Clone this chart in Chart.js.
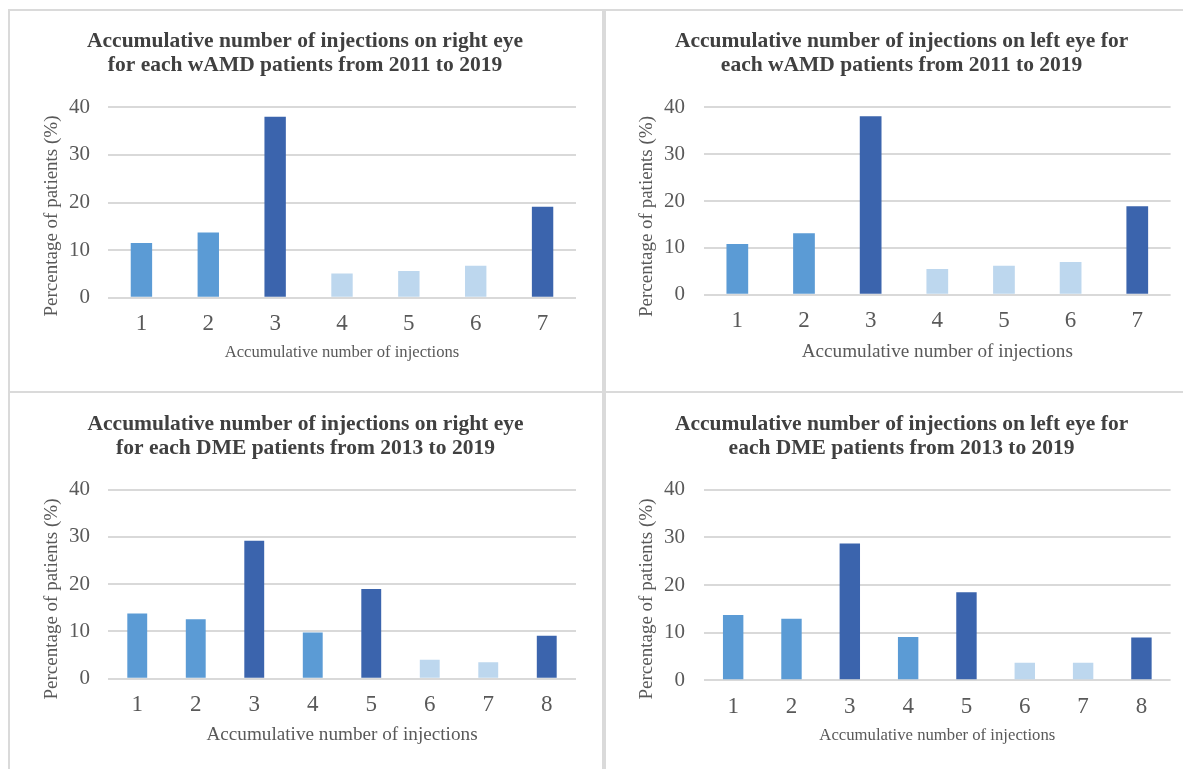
<!DOCTYPE html>
<html>
<head>
<meta charset="utf-8">
<script src="https://cdn.jsdelivr.net/npm/chart.js@4.4.1/dist/chart.umd.min.js"></script>
<style>
  html, body { margin: 0; padding: 0; background: #ffffff; }
  body { width: 1183px; height: 769px; position: relative; overflow: hidden; }
  .rule { position: absolute; background: #dadada; }
  canvas { position: absolute; }
</style>
</head>
<body>
<div class="rule" style="left:8px;top:9px;width:1175px;height:2px"></div>
<div class="rule" style="left:8px;top:9px;width:2px;height:760px"></div>
<div class="rule" style="left:602px;top:9px;width:4px;height:760px"></div>
<div class="rule" style="left:8px;top:391px;width:1175px;height:2px"></div>

<canvas id="wamdRight" width="590" height="378" style="left:10px;top:12px"></canvas>
<canvas id="wamdLeft" width="577" height="378" style="left:606px;top:12px"></canvas>
<canvas id="dmeRight" width="590" height="375" style="left:10px;top:394px"></canvas>
<canvas id="dmeLeft" width="577" height="375" style="left:606px;top:394px"></canvas>

<script>
// Injection counts on the x axis
const wamdCounts = ['1', '2', '3', '4', '5', '6', '7'];
const dmeCounts = ['1', '2', '3', '4', '5', '6', '7', '8'];

// Percentage of patients per accumulative injection count
const wamdRightPct = [11.5, 13.7, 38.0, 5.1, 5.6, 6.7, 19.1];
const wamdLeftPct = [10.8, 13.1, 38.1, 5.5, 6.2, 7.0, 18.9];
const dmeRightPct = [13.8, 12.6, 29.2, 9.8, 19.0, 4.0, 3.5, 9.1];
const dmeLeftPct = [13.7, 12.9, 28.7, 9.1, 18.5, 3.7, 3.7, 9.0];

// Y axis tick values
const pctTicks = [0, 10, 20, 30, 40];

const wamdRightTitle = ['Accumulative number of injections on right eye', 'for each wAMD patients from 2011 to 2019'];
const wamdLeftTitle = ['Accumulative number of injections on left eye for', 'each wAMD patients from 2011 to 2019'];
const dmeRightTitle = ['Accumulative number of injections on right eye', 'for each DME patients from 2013 to 2019'];
const dmeLeftTitle = ['Accumulative number of injections on left eye for', 'each DME patients from 2013 to 2019'];
const xAxisTitle = 'Accumulative number of injections';
const yAxisTitle = 'Percentage of patients (%)';

// Bar shades
const DARK = '#3b64ad', MID = '#5b9bd5', LIGHT = '#bdd7ee';
const wamdShades = [MID, MID, DARK, LIGHT, LIGHT, LIGHT, DARK];
const dmeShades = [MID, MID, DARK, MID, DARK, LIGHT, LIGHT, DARK];

const SERIF = '"Liberation Serif", "Times New Roman", Times, serif';
const TEXT = '#595959';

// Rotated y-axis caption, placed freely beside the value axis
const yCaption = {
  id: 'yCaption',
  afterDraw(chart, args, opts) {
    const ctx = chart.ctx;
    ctx.save();
    ctx.translate(opts.x, opts.y);
    ctx.rotate(-Math.PI / 2);
    ctx.font = '19px ' + SERIF;
    ctx.fillStyle = TEXT;
    ctx.textAlign = 'center';
    ctx.textBaseline = 'middle';
    ctx.fillText(opts.text, 0, 0);
    ctx.restore();
  }
};

function drawPanel(id, labels, values, shades, title, box) {
  new Chart(document.getElementById(id), {
    type: 'bar',
    plugins: [yCaption],
    data: {
      labels: labels,
      datasets: [{
        data: values,
        backgroundColor: shades,
        borderWidth: 0,
        barPercentage: box.bar,
        categoryPercentage: 1
      }]
    },
    options: {
      responsive: false,
      animation: false,
      events: [],
      layout: { padding: { left: box.padL, right: box.padR, top: 0, bottom: 0 } },
      plugins: {
        legend: { display: false },
        tooltip: { enabled: false },
        yCaption: { text: yAxisTitle, x: box.capX, y: box.capY },
        title: {
          display: true,
          text: title,
          color: '#404040',
          font: { family: SERIF, size: 21.5, weight: 'bold', lineHeight: 24 / 21.5 },
          padding: { top: box.tTop, bottom: box.tBot }
        }
      },
      scales: {
        x: {
          grid: { display: false, drawTicks: false },
          border: { display: false },
          ticks: { color: TEXT, font: { family: SERIF, size: 23 }, padding: box.xTickPad },
          title: {
            display: true, text: xAxisTitle, color: TEXT,
            font: { family: SERIF, size: box.xTitleSize },
            padding: { top: 0, bottom: box.xTitlePad }
          },
          afterFit: s => { s.height = box.xH; }
        },
        y: {
          min: pctTicks[0],
          max: pctTicks[pctTicks.length - 1],
          afterBuildTicks: s => { s.ticks = pctTicks.map(v => ({ value: v })); },
          ticks: { color: TEXT, font: { family: SERIF, size: 21 }, padding: box.yTickPad },
          grid: { color: '#d9d9d9', lineWidth: 2, drawTicks: false },
          border: { display: false },
          title: { display: false },
          afterFit: s => { s.width = box.yW; }
        }
      }
    }
  });
}

drawPanel('wamdRight', wamdCounts, wamdRightPct, wamdShades, wamdRightTitle,
  { bar: 0.32, padL: 24, padR: 24, yW: 74, capX: 42.5, capY: 204, yTickPad: 18,
    tTop: 17.5, tBot: 29.8, xH: 92.3, xTickPad: 12, xTitleSize: 16.6, xTitlePad: 27 });

drawPanel('wamdLeft', wamdCounts, wamdLeftPct, wamdShades, wamdLeftTitle,
  { bar: 0.326, padL: 26.6, padR: 12.4, yW: 71.4, capX: 41.5, capY: 204.5, yTickPad: 19,
    tTop: 17, tBot: 30.3, xH: 95.3, xTickPad: 12.2, xTitleSize: 19.2, xTitlePad: 26.8 });

drawPanel('dmeRight', dmeCounts, dmeRightPct, dmeShades, dmeRightTitle,
  { bar: 0.34, padL: 25, padR: 24, yW: 73, capX: 41.7, capY: 205, yTickPad: 18,
    tTop: 18.3, tBot: 29.4, xH: 90.3, xTickPad: 12.5, xTitleSize: 19.2, xTitlePad: 22.5 });

drawPanel('dmeLeft', dmeCounts, dmeLeftPct, dmeShades, dmeLeftTitle,
  { bar: 0.35, padL: 26.6, padR: 12.4, yW: 71.4, capX: 41.5, capY: 205, yTickPad: 19,
    tTop: 18.3, tBot: 29.4, xH: 88.7, xTickPad: 12.6, xTitleSize: 16.7, xTitlePad: 23.3 });
</script>
</body>
</html>
